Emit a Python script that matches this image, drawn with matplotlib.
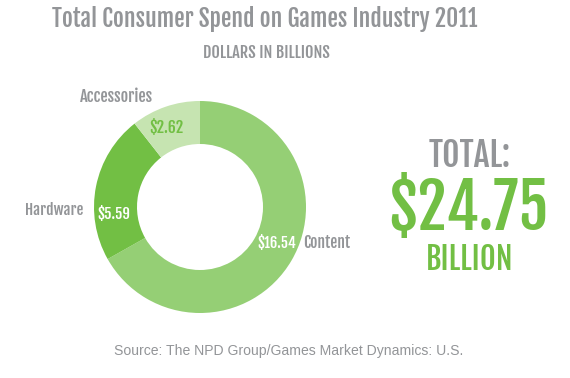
import matplotlib
matplotlib.use("Agg")
import matplotlib.pyplot as plt

categories = ["Content", "Hardware", "Accessories"]
values = [16.54, 5.59, 2.62]
value_labels = ["$16.54", "$5.59", "$2.62"]
total_label = "$24.75"
colors = ["#95cf75", "#72bf44", "#c6e4b1"]

GRAY = "#939598"
GREEN = "#72bf44"
COND = ["Fjalla One", "DejaVu Sans"]
PLAIN = ["Liberation Sans", "DejaVu Sans"]

W, H = 570, 378
fig = plt.figure(figsize=(W / 100, H / 100), dpi=100)
ax = fig.add_axes([0, 0, 1, 1])

cx, cy, R, r = 200, 207, 106, 63
ax.pie(values, colors=colors, startangle=90, counterclock=False,
       center=(cx, H - cy), radius=R, wedgeprops=dict(width=R - r, linewidth=0),
       frame=True)
ax.set_xlim(0, W)
ax.set_ylim(0, H)
ax.set_aspect("equal")
ax.axis("off")

renderer = fig.canvas.get_renderer()

def t(xc, base, width, s, color, family=COND, weight="normal"):
    txt = ax.text(xc, H - base, s, fontsize=10, color=color, ha="center",
                  va="baseline", family=family, weight=weight)
    w = txt.get_window_extent(renderer).width
    txt.set_fontsize(10 * width / w)
    return txt

t(264.5, 27, 425, "Total Consumer Spend on Games Industry 2011", GRAY)
t(266, 58, 128, "DOLLARS IN BILLIONS", GRAY)

t(116.5, 102, 73, categories[2], GRAY)
t(166, 133, 34, value_labels[2], GREEN)
t(54, 215, 58, categories[1], GRAY)
t(113.5, 219, 33, value_labels[1], "white")
t(276.5, 248, 39, value_labels[0], "white")
t(326.5, 248, 47, categories[0], GRAY)

t(469.5, 167, 82, "TOTAL:", GRAY)
t(468.5, 230, 160, total_label, GREEN)
t(469.5, 270, 88, "BILLION", GREEN)

t(289, 355, 348, "Source: The NPD Group/Games Market Dynamics: U.S.", GRAY,
  family=PLAIN)

fig.savefig("out.png", dpi=100)
